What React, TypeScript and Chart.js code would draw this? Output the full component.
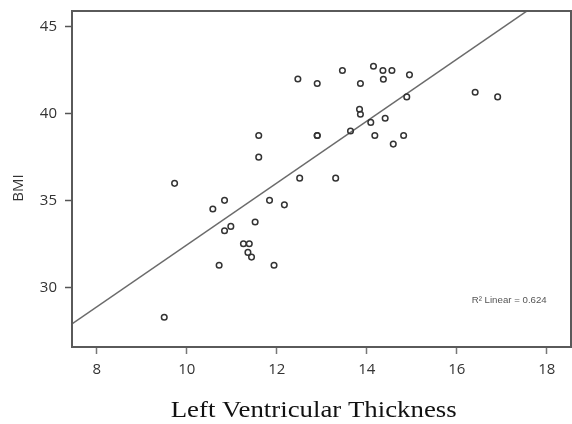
import { useEffect, useRef } from "react";
import { Chart, registerables } from "chart.js";

Chart.register(...registerables);

// ---- data ----
const xTickValues = [8, 10, 12, 14, 16, 18];
const yTickValues = [30, 35, 40, 45];

const lvThickness = [
  12.47, 12.9, 13.46, 13.86, 14.15, 13.84, 13.86, 14.09, 13.64, 11.6,
  12.9, 12.9, 14.18, 11.6, 12.51, 13.31, 14.36, 14.56, 14.37, 14.95,
  14.89, 16.41, 16.91, 14.41, 14.82, 14.59, 9.73, 9.5, 10.84, 10.58,
  11.84, 12.17, 11.52, 10.98, 10.84, 11.26, 11.39, 11.36, 11.44, 10.72,
  11.94,
];
const bmi = [
  42.0, 41.74, 42.49, 41.74, 42.74, 40.26, 39.97, 39.5, 39.01, 38.75,
  38.75, 38.75, 38.75, 37.5, 36.29, 36.29, 42.49, 42.49, 41.99, 42.24,
  40.97, 41.24, 40.97, 39.74, 38.75, 38.25, 35.99, 28.27, 35.01, 34.51,
  35.01, 34.75, 33.76, 33.51, 33.26, 32.51, 32.51, 32.01, 31.74, 31.27,
  31.27,
];

const fitIntercept = 14.61;
const fitSlope = 1.783;
const rSquaredLabel = "R\u00B2 Linear = 0.624";

const xAxisTitle = "Left Ventricular Thickness";
const yAxisTitle = "BMI";

const X_MIN = 7.45;
const X_MAX = 18.54;
const Y_MIN = 26.56;
const Y_MAX = 45.92;

function fillStretched(
  ctx: CanvasRenderingContext2D,
  text: string,
  x: number,
  y: number,
  targetWidth: number
) {
  const w = ctx.measureText(text).width;
  const k = w > 0 ? targetWidth / w : 1;
  ctx.save();
  ctx.translate(x, y);
  ctx.scale(k, 1);
  ctx.fillText(text, 0, 0);
  ctx.restore();
}

const decorPlugin = {
  id: "decor",
  afterDraw(chart: any) {
    const ctx = chart.ctx as CanvasRenderingContext2D;
    const a = chart.chartArea;
    ctx.save();
    // plot box
    ctx.strokeStyle = "#5a5a5a";
    ctx.lineWidth = 2;
    ctx.strokeRect(a.left, a.top, a.right - a.left, a.bottom - a.top);

    // x title
    ctx.fillStyle = "#111";
    ctx.font = '24px "Liberation Serif", "Times New Roman", serif';
    ctx.textAlign = "center";
    ctx.textBaseline = "alphabetic";
    fillStretched(ctx, xAxisTitle, 313.7, 416.7, 286);

    // y title
    ctx.save();
    ctx.translate(18.5, 188);
    ctx.rotate(-Math.PI / 2);
    ctx.font = '15px "Open Sans", sans-serif';
    ctx.textAlign = "center";
    ctx.textBaseline = "middle";
    ctx.fillStyle = "#333";
    ctx.fillText(yAxisTitle, 0, 0);
    ctx.restore();

    // R² annotation
    ctx.font = '9px "Liberation Sans", Arial, sans-serif';
    ctx.fillStyle = "#555";
    ctx.textAlign = "left";
    ctx.textBaseline = "middle";
    fillStretched(ctx, rSquaredLabel, 471.7, 300.5, 75);
    ctx.restore();
  },
};

function zeroPadding(s: any) {
  s.paddingLeft = 0;
  s.paddingRight = 0;
  s.paddingTop = 0;
  s.paddingBottom = 0;
}

export default function App() {
  const ref = useRef<HTMLCanvasElement>(null);

  useEffect(() => {
    const points = lvThickness.map((x, i) => ({ x, y: bmi[i] }));
    const fitLine = [
      { x: X_MIN, y: fitIntercept + fitSlope * X_MIN },
      { x: X_MAX, y: fitIntercept + fitSlope * X_MAX },
    ];
    const tickFont = { family: '"Open Sans", sans-serif', size: 15 };

    const chart = new Chart(ref.current as HTMLCanvasElement, {
      type: "scatter",
      data: {
        datasets: [
          {
            type: "line",
            data: fitLine,
            borderColor: "#6b6b6b",
            borderWidth: 1.5,
            pointRadius: 0,
            fill: false,
            order: 2,
          } as any,
          {
            data: points,
            pointStyle: "circle",
            pointRadius: 2.8,
            pointBorderWidth: 1.5,
            borderColor: "#333",
            backgroundColor: "rgba(255,255,255,0)",
            order: 1,
          } as any,
        ],
      },
      options: {
        responsive: false,
        animation: false,
        devicePixelRatio: 1,
        layout: {
          autoPadding: false,
          padding: { left: 0, right: 1, top: 11, bottom: 0 },
        },
        plugins: {
          legend: { display: false },
          tooltip: { enabled: false },
        },
        scales: {
          x: {
            type: "linear",
            min: X_MIN,
            max: X_MAX,
            afterBuildTicks: (s: any) => {
              s.ticks = xTickValues.map((v) => ({ value: v }));
            },
            afterFit: (s: any) => {
              s.height = 77;
              zeroPadding(s);
            },
            grid: {
              drawOnChartArea: false,
              drawTicks: true,
              tickLength: 7,
              tickColor: "#777",
              tickWidth: 1.5,
            },
            border: { display: true, color: "#5a5a5a", width: 2 },
            ticks: {
              color: "#333",
              font: tickFont,
              padding: 7,
              maxRotation: 0,
              autoSkip: false,
            },
          },
          y: {
            type: "linear",
            min: Y_MIN,
            max: Y_MAX,
            afterBuildTicks: (s: any) => {
              s.ticks = yTickValues.map((v) => ({ value: v }));
            },
            afterFit: (s: any) => {
              s.width = 72;
              zeroPadding(s);
            },
            grid: {
              drawOnChartArea: false,
              drawTicks: true,
              tickLength: 7,
              tickColor: "#555",
              tickWidth: 1.5,
            },
            border: { display: true, color: "#5a5a5a", width: 2 },
            ticks: {
              color: "#333",
              font: tickFont,
              padding: 8,
              autoSkip: false,
            },
          },
        },
      },
      plugins: [decorPlugin],
    } as any);

    return () => chart.destroy();
  }, []);

  return (
    <div
      style={{
        position: "absolute",
        left: 0,
        top: 0,
        width: 572,
        height: 424,
        background: "#fff",
      }}
    >
      <canvas ref={ref} width={572} height={424} style={{ display: "block" }} />
    </div>
  );
}
